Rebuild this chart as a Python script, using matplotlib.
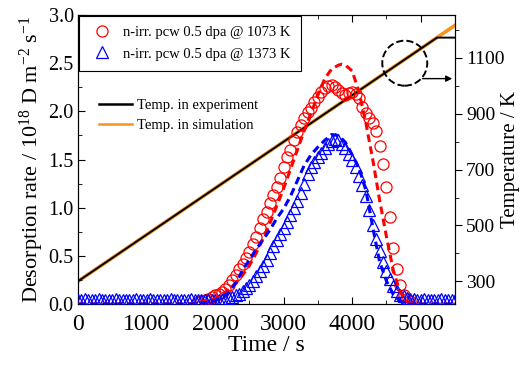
import numpy as np
import matplotlib
matplotlib.use('Agg')
import matplotlib.pyplot as plt
from matplotlib.patches import Ellipse
from matplotlib.lines import Line2D
from matplotlib.ticker import MultipleLocator

plt.rcParams['font.family'] = ['Liberation Serif', 'DejaVu Serif']
plt.rcParams['mathtext.fontset'] = 'custom'
plt.rcParams['mathtext.rm'] = 'Liberation Serif'
plt.rcParams['mathtext.it'] = 'Liberation Serif:italic'

## datos experimentales (cada 50 s)
t_red = np.arange(1750, 4851, 50)
rate_red = [0.02, 0.03, 0.04, 0.05, 0.07, 0.09, 0.11, 0.13, 0.16, 0.20,
            0.25, 0.30, 0.36, 0.42, 0.48, 0.54, 0.62, 0.70, 0.79, 0.88,
            0.96, 1.05, 1.13, 1.22, 1.31, 1.42, 1.53, 1.60, 1.70, 1.79,
            1.86, 1.93, 1.99, 2.04, 2.10, 2.15, 2.20, 2.24, 2.26, 2.27,
            2.25, 2.22, 2.19, 2.17, 2.19, 2.20, 2.18, 2.14, 2.05, 1.98,
            1.93, 1.88, 1.80, 1.64, 1.45, 1.22, 0.90, 0.58, 0.36, 0.20,
            0.10, 0.05, 0.03]

t_blue = np.arange(0, 5501, 50)
rate_blue = [0.04, 0.04, 0.05, 0.04, 0.04, 0.04, 0.05, 0.04, 0.04, 0.04,
             0.04, 0.05, 0.04, 0.04, 0.04, 0.04, 0.04, 0.05, 0.04, 0.04,
             0.04, 0.05, 0.04, 0.04, 0.04, 0.04, 0.04, 0.05, 0.04, 0.04,
             0.04, 0.04, 0.04, 0.05, 0.04,
             0.04, 0.04, 0.04, 0.04, 0.04, 0.04, 0.04, 0.04, 0.05, 0.06,
             0.07, 0.09, 0.11, 0.14, 0.17, 0.20, 0.24, 0.29, 0.34, 0.40,
             0.46, 0.53, 0.60, 0.67, 0.73, 0.79, 0.85, 0.92, 1.00, 1.07,
             1.15, 1.25, 1.35, 1.42, 1.48, 1.53, 1.57, 1.62, 1.66, 1.69,
             1.71, 1.70, 1.66, 1.62, 1.56, 1.50, 1.42, 1.33, 1.24, 1.12,
             0.98, 0.82, 0.68, 0.55, 0.44, 0.34, 0.26, 0.19, 0.14, 0.10,
             0.08, 0.06, 0.05, 0.05,
             0.04, 0.04, 0.05, 0.04, 0.04, 0.04, 0.04, 0.05, 0.04, 0.04,
             0.04, 0.04]

## simulacion
t_sim_red = [0, 1600, 1800, 1900, 2000, 2100, 2200, 2300, 2400, 2500, 2600,
             2700, 2800, 2900, 3000, 3100, 3200, 3300, 3400, 3500, 3600,
             3700, 3800, 3850, 3900, 4000, 4100, 4200, 4300, 4400, 4500,
             4600, 4700, 4800, 4900, 5500]
sim_red = [0.0, 0.0, 0.02, 0.04, 0.06, 0.10, 0.15, 0.22, 0.30, 0.40, 0.53,
           0.68, 0.84, 1.02, 1.20, 1.40, 1.60, 1.80, 1.98, 2.17, 2.34,
           2.44, 2.48, 2.49, 2.48, 2.42, 2.20, 1.88, 1.50, 1.08, 0.70,
           0.35, 0.12, 0.03, 0.0, 0.0]

t_sim_blue = [0, 1600, 1800, 1900, 2000, 2100, 2200, 2300, 2400, 2500, 2600,
              2700, 2800, 2900, 3000, 3100, 3200, 3300, 3400, 3500, 3600,
              3700, 3800, 3900, 4000, 4100, 4200, 4300, 4400, 4500, 4600,
              4700, 4800, 5500]
sim_blue = [0.0, 0.0, 0.01, 0.02, 0.04, 0.07, 0.12, 0.22, 0.35, 0.46, 0.57,
            0.67, 0.77, 0.89, 0.99, 1.12, 1.28, 1.44, 1.55, 1.63, 1.70,
            1.76, 1.75, 1.68, 1.55, 1.41, 1.18, 0.80, 0.44, 0.24, 0.10,
            0.03, 0.0, 0.0]

## temperatura
t_exp = [0, 5238, 5500]
T_exp = [300, 1173, 1173]
t_simT = [0, 5500]
T_simT = [300, 1217]

fig = plt.figure(figsize=(5.2, 3.66), dpi=100)
ax = fig.add_axes([0.15, 0.169, 0.725, 0.790])
ax2 = ax.twinx()

ax.plot(t_red, rate_red, 'o', mfc='none', mec='red', ms=8, mew=0.9, zorder=3)
ax.plot(t_blue, rate_blue, '^', mfc='none', mec='blue', ms=8.5, mew=0.9, zorder=4)
ax.plot(t_sim_red, sim_red, color='red', lw=2.2, dashes=(2.5, 1.5), zorder=5)
ax.plot(t_sim_blue, sim_blue, color='blue', lw=2.2, dashes=(2.5, 1.5), zorder=5)

ax2.plot(t_simT, T_simT, color='#f7941d', lw=2.6)
ax2.plot(t_exp, T_exp, color='black', lw=1.4)

ax.set_xlim(0, 5500)
ax.set_ylim(0, 3.0)
ax2.set_ylim(218, 1254)

ax.xaxis.set_major_locator(MultipleLocator(1000))
ax.xaxis.set_minor_locator(MultipleLocator(500))
ax.yaxis.set_major_locator(MultipleLocator(0.5))
ax.yaxis.set_minor_locator(MultipleLocator(0.25))
ax2.set_yticks([300, 500, 700, 900, 1100])
ax2.set_yticks([400, 600, 800, 1000, 1200], minor=True)

ax.tick_params(which='both', direction='in', top=True)
ax.tick_params(which='major', length=5)
ax.tick_params(which='minor', length=3)
ax.tick_params(axis='x', labelsize=17, pad=7)
ax.tick_params(axis='y', labelsize=14.5, pad=3)
ax.yaxis.set_major_formatter(plt.FuncFormatter(lambda v, p: '%.1f' % v))
ax2.tick_params(which='both', direction='out', labelsize=14, pad=3)
ax2.tick_params(which='major', length=5)
ax2.tick_params(which='minor', length=3)

ax.set_xlabel('Time / s', fontsize=17, labelpad=0)
ax.set_ylabel('Desorption rate / 10$^{18}$ D m$^{-2}$ s$^{-1}$', fontsize=16, labelpad=2)
ax2.set_ylabel('Temperature / K', fontsize=15)
ax2.yaxis.set_label_coords(1.122, 0.5)

# circulo y flecha hacia el eje derecho
ax.add_patch(Ellipse((4767, 2.50), 656, 0.467, fill=False, ls='--', lw=1.4, ec='black', zorder=6))
ax.annotate('', xy=(5500, 2.34), xytext=(4985, 2.34),
            arrowprops=dict(arrowstyle='-|>', color='black', lw=1, mutation_scale=9), zorder=6)

h1 = [Line2D([], [], marker='o', ls='none', mfc='none', mec='red', ms=8, mew=0.9),
      Line2D([], [], marker='^', ls='none', mfc='none', mec='blue', ms=8, mew=0.9)]
leg1 = ax.legend(h1, ['n-irr. pcw 0.5 dpa @ 1073 K', 'n-irr. pcw 0.5 dpa @ 1373 K'],
                 loc='upper left', bbox_to_anchor=(0.003, 0.997), borderaxespad=0,
                 fontsize=10.5, fancybox=False, edgecolor='black', framealpha=1,
                 handlelength=1.8, handletextpad=0.5, labelspacing=0.55, borderpad=0.7)
leg1.get_frame().set_linewidth(0.8)
ax.add_artist(leg1)

h2 = [Line2D([], [], color='black', lw=1.8), Line2D([], [], color='#f7941d', lw=1.8)]
ax.legend(h2, ['Temp. in experiment', 'Temp. in simulation'], loc='upper left',
          bbox_to_anchor=(0.04, 0.73), borderaxespad=0, frameon=False,
          fontsize=10.5, handlelength=2.3, handletextpad=0.3, labelspacing=0.45)

ax.set_zorder(ax2.get_zorder() + 1)
ax.patch.set_visible(False)

fig.savefig('out.png', dpi=100)
